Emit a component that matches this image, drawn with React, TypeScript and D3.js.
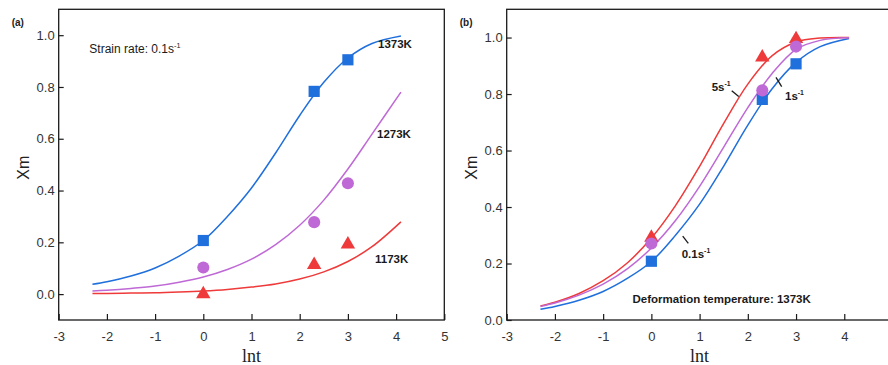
import React, { useEffect, useRef } from 'react';
import * as d3 from 'd3';

// fitted curves
const fitLnt = [-2.3, -2, -1.5, -1, -0.5, 0, 0.5, 1, 1.5, 2, 2.5, 3, 3.5, 4.1];
const fit1373K = [0.038, 0.048, 0.070, 0.101, 0.147, 0.207, 0.300, 0.410, 0.545, 0.690, 0.818, 0.912, 0.968, 0.997];
const fit1273K = [0.012, 0.015, 0.022, 0.031, 0.046, 0.066, 0.095, 0.135, 0.191, 0.266, 0.363, 0.483, 0.618, 0.780];
const fit1173K = [0.002, 0.002, 0.004, 0.005, 0.008, 0.012, 0.018, 0.027, 0.039, 0.058, 0.086, 0.126, 0.183, 0.279];
const fit5s = [0.050, 0.063, 0.094, 0.139, 0.202, 0.290, 0.405, 0.544, 0.696, 0.835, 0.935, 0.984, 0.998, 1.000];
const fit1s = [0.048, 0.060, 0.088, 0.127, 0.181, 0.255, 0.352, 0.473, 0.612, 0.752, 0.872, 0.958, 0.990, 0.999];
const fit01s = [0.038, 0.048, 0.070, 0.101, 0.147, 0.207, 0.300, 0.410, 0.545, 0.690, 0.818, 0.912, 0.968, 0.997];

// measured points
const expLnt = [0, 2.3, 3];
const exp1373K = [0.207, 0.783, 0.905];
const exp1273K = [0.103, 0.278, 0.428];
const exp1173K = [0.0, 0.113, 0.192];
const exp5s = [0.292, 0.930, 0.995];
const exp1s = [0.271, 0.813, 0.968];
const exp01s = [0.208, 0.781, 0.907];

const xTicksA = [-3, -2, -1, 0, 1, 2, 3, 4, 5];
const xTicksB = [-3, -2, -1, 0, 1, 2, 3, 4];
const yTicks = [0, 0.2, 0.4, 0.6, 0.8, 1.0];

const BLUE = '#1f6fdc';
const PURPLE = '#bf69d6';
const RED = '#ee3a3a';
const SANS = '"Liberation Sans", Arial, sans-serif';
const SERIF = '"Liberation Serif", "Times New Roman", serif';

type Series = { fit: number[]; pts: number[]; color: string; shape: d3.SymbolType; size: number };

const App: React.FC = () => {
  const svgRef = useRef<SVGSVGElement>(null);

  useEffect(() => {
    if (!svgRef.current) return;
    const svg = d3.select(svgRef.current);
    svg.selectAll('*').remove();

    const top = 9.3;
    const bottom = 320;

    const drawPanel = (
      x0: number, x1: number, yDomain: [number, number], xTicks: number[],
      series: Series[], tag: string
    ) => {
      const x = d3.scaleLinear().domain([-3, 5]).range([x0, x1]);
      const y = d3.scaleLinear().domain(yDomain).range([bottom, top]);
      const g = svg.append('g');

      // X axis, ticks pointing inward
      g.append('g')
        .attr('transform', `translate(0, ${bottom})`)
        .call(d3.axisBottom(x).tickValues(xTicks).tickSize(-6).tickPadding(12).tickFormat(d => String(d)))
        .call(a => a.select('.domain').remove())
        .call(a => a.selectAll('.tick line').attr('stroke', '#1a1a1a').attr('stroke-width', 1.2))
        .call(a => a.selectAll('.tick text').attr('fill', '#333').attr('font-size', '13px').attr('font-family', SANS));

      // Y axis
      g.append('g')
        .attr('transform', `translate(${x0}, 0)`)
        .call(d3.axisLeft(y).tickValues(yTicks).tickSize(-5).tickPadding(4).tickFormat(d => d3.format('.1f')(d as number)))
        .call(a => a.select('.domain').remove())
        .call(a => a.selectAll('.tick line').attr('stroke', '#1a1a1a').attr('stroke-width', 1.2))
        .call(a => a.selectAll('.tick text').attr('fill', '#333').attr('font-size', '13px').attr('font-family', SANS));

      // Frame
      g.append('rect')
        .attr('x', x0).attr('y', top)
        .attr('width', x1 - x0).attr('height', bottom - top)
        .attr('fill', 'none').attr('stroke', '#1a1a1a').attr('stroke-width', 1.3);

      // Fitted curves
      const line = d3.line<number>()
        .x((_, i) => x(fitLnt[i]))
        .y(d => y(d))
        .curve(d3.curveCatmullRom);

      series.forEach(s => {
        g.append('path')
          .datum(s.fit)
          .attr('fill', 'none')
          .attr('stroke', s.color)
          .attr('stroke-width', 1.5)
          .attr('d', line);
      });

      // Markers
      series.forEach(s => {
        g.append('g')
          .selectAll('path')
          .data(s.pts)
          .enter()
          .append('path')
          .attr('transform', (d, i) => `translate(${x(expLnt[i])}, ${y(d)})`)
          .attr('d', d3.symbol().type(s.shape).size(s.size)())
          .attr('fill', s.color);
      });

      // Axis titles
      g.append('text')
        .attr('transform', `translate(${x0 - 29.5}, ${(top + bottom) / 2 + 3}) rotate(-90)`)
        .attr('text-anchor', 'middle')
        .attr('font-family', SANS)
        .attr('font-size', '16px')
        .attr('fill', '#222')
        .text('Xm');

      g.append('text')
        .attr('x', (x0 + x1) / 2)
        .attr('y', 362)
        .attr('text-anchor', 'middle')
        .attr('font-family', SERIF)
        .attr('font-size', '18px')
        .attr('fill', '#222')
        .text('lnt');

      g.append('text')
        .attr('x', x0 - 47)
        .attr('y', 26)
        .attr('font-family', SANS)
        .attr('font-size', '10px')
        .attr('font-weight', 'bold')
        .attr('fill', '#222')
        .text(tag);

      return { g, x, y };
    };

    const superText = (
      g: d3.Selection<SVGGElement, unknown, null, undefined>,
      px: number, py: number, main: string, size: number, weight: string
    ) => {
      const t = g.append('text')
        .attr('x', px).attr('y', py)
        .attr('font-family', SANS)
        .attr('font-size', `${size}px`)
        .attr('font-weight', weight)
        .attr('fill', '#1a1a1a');
      t.append('tspan').text(main);
      t.append('tspan').attr('dy', -size * 0.42).attr('font-size', `${size * 0.6}px`).text('-1');
      return t;
    };

    // Panel (a)
    const a = drawPanel(58.7, 444.3, [-0.1, 1.1], xTicksA, [
      { fit: fit1373K, pts: exp1373K, color: BLUE, shape: d3.symbolSquare, size: 125 },
      { fit: fit1273K, pts: exp1273K, color: PURPLE, shape: d3.symbolCircle, size: 115 },
      { fit: fit1173K, pts: exp1173K, color: RED, shape: d3.symbolTriangle, size: 90 },
    ], '(a)');

    superText(a.g, a.x(-2.365), a.y(0.932), 'Strain rate: 0.1s', 12, 'normal');

    [['1373K', 3.625, 0.951], ['1273K', 3.604, 0.601], ['1173K', 3.562, 0.12]].forEach(([t, lx, ly]) => {
      a.g.append('text')
        .attr('x', a.x(lx as number)).attr('y', a.y(ly as number))
        .attr('font-family', SANS)
        .attr('font-size', '11.5px')
        .attr('font-weight', 'bold')
        .attr('fill', '#1a1a1a')
        .text(t as string);
    });

    // Panel (b)
    const b = drawPanel(506.7, 892.5, [0, 1.1], xTicksB, [
      { fit: fit01s, pts: exp01s, color: BLUE, shape: d3.symbolSquare, size: 125 },
      { fit: fit5s, pts: exp5s, color: RED, shape: d3.symbolTriangle, size: 90 },
      { fit: fit1s, pts: exp1s, color: PURPLE, shape: d3.symbolCircle, size: 115 },
    ], '(b)');

    superText(b.g, b.x(1.251), b.y(0.811), '5s', 11.5, 'bold');
    superText(b.g, b.x(2.771), b.y(0.779), '1s', 11.5, 'bold');
    superText(b.g, b.x(0.629), b.y(0.2195), '0.1s', 11.5, 'bold');

    // leader lines from labels to curves
    [[1.666, 0.812, 1.811, 0.791], [2.584, 0.859, 2.702, 0.826], [0.65, 0.297, 0.766, 0.2716]].forEach(([lx1, ly1, lx2, ly2]) => {
      b.g.append('line')
        .attr('x1', b.x(lx1)).attr('y1', b.y(ly1))
        .attr('x2', b.x(lx2)).attr('y2', b.y(ly2))
        .attr('stroke', '#1a1a1a')
        .attr('stroke-width', 1.3);
    });

    b.g.append('text')
      .attr('x', b.x(1.458)).attr('y', b.y(0.06))
      .attr('text-anchor', 'middle')
      .attr('font-family', SANS)
      .attr('font-size', '11.5px')
      .attr('font-weight', 'bold')
      .attr('fill', '#1a1a1a')
      .text('Deformation temperature: 1373K');
  }, []);

  return (
    <svg
      ref={svgRef}
      width={888}
      height={365}
      style={{ position: 'absolute', left: 0, top: 0, background: '#fff' }}
    />
  );
};

export default App;
